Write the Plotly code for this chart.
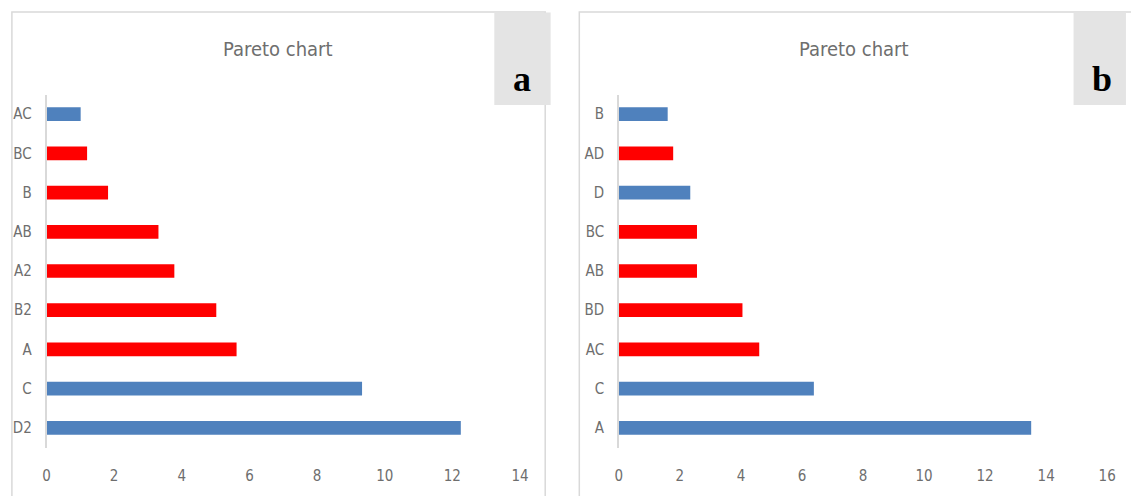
import plotly.graph_objects as go

W, H = 1131, 496

# Panel a: effects in Pareto order (largest first, drawn bottom to top)
a_terms = ["D2", "C", "A", "B2", "A2", "AB", "B", "BC", "AC"]
a_values = [12.25, 9.33, 5.62, 5.02, 3.78, 3.31, 1.82, 1.20, 1.01]
a_flag = [0, 0, 1, 1, 1, 1, 1, 1, 0]

# Panel b
b_terms = ["A", "C", "AC", "BD", "AB", "BC", "D", "AD", "B"]
b_values = [13.51, 6.39, 4.60, 4.05, 2.56, 2.56, 2.34, 1.78, 1.60]
b_flag = [0, 0, 1, 1, 1, 1, 0, 1, 0]

a_ticks = [0, 2, 4, 6, 8, 10, 12, 14]
b_ticks = [0, 2, 4, 6, 8, 10, 12, 14, 16]

BLUE = "#4f81bd"
RED = "#ff0000"
TEXT = "#6e6e6e"
FRAME = "#d9d9d9"
NARROW = "DejaVu Sans Condensed, Roboto, sans-serif"
TICK_FONT = dict(family=NARROW, size=15, color=TEXT)


def px(x):
    return x / W


def py(y):
    return 1 - y / H


fig = go.Figure()

fig.add_trace(go.Bar(
    x=a_values, y=a_terms, orientation="h",
    marker=dict(color=[RED if f else BLUE for f in a_flag], line=dict(width=0)),
    width=0.35, xaxis="x", yaxis="y", showlegend=False,
))
fig.add_trace(go.Bar(
    x=b_values, y=b_terms, orientation="h",
    marker=dict(color=[RED if f else BLUE for f in b_flag], line=dict(width=0)),
    width=0.35, xaxis="x2", yaxis="y2", showlegend=False,
))

plot_top, plot_bottom = 94.5, 447.5
ydom = [py(plot_bottom), py(plot_top)]

xcommon = dict(showgrid=False, zeroline=False, showline=False, ticks="",
               tickfont=TICK_FONT, ticklabelstandoff=17, fixedrange=True)
ycommon = dict(showgrid=False, zeroline=False, showline=True, linecolor=FRAME,
               linewidth=1.5, ticks="", tickfont=TICK_FONT, ticklabelstandoff=10,
               type="category", fixedrange=True)

fig.update_layout(
    width=W, height=H,
    margin=dict(l=0, r=0, t=0, b=0),
    paper_bgcolor="white", plot_bgcolor="white",
    xaxis=dict(domain=[px(43), px(522)], range=[0, a_ticks[-1]],
               tickvals=a_ticks, anchor="y", **xcommon),
    yaxis=dict(domain=ydom, anchor="x", **ycommon),
    xaxis2=dict(domain=[px(622), px(1116)], range=[0, b_ticks[-1]],
                tickvals=b_ticks, anchor="y2", **xcommon),
    yaxis2=dict(domain=ydom, anchor="x2", **ycommon),
    bargap=0.65,
)

shapes = []
# chart frames
for x0, x1 in [(8, 547.5), (582, 1145)]:
    shapes.append(dict(type="rect", xref="paper", yref="paper",
                       x0=px(x0), x1=px(x1), y0=py(510), y1=py(12),
                       line=dict(color=FRAME, width=1.5), fillcolor="rgba(0,0,0,0)",
                       layer="below"))
# panel letter boxes
for x0, x1 in [(496, 553), (1082, 1135)]:
    shapes.append(dict(type="rect", xref="paper", yref="paper",
                       x0=px(x0), x1=px(x1), y0=py(105), y1=py(12.5),
                       line=dict(width=0), fillcolor="#e4e4e4", layer="above"))
fig.update_layout(shapes=shapes)

annotations = []
for cx in [277, 860]:
    annotations.append(dict(text="Pareto chart", xref="paper", yref="paper",
                            x=px(cx), y=py(49), xanchor="center", yanchor="middle",
                            showarrow=False,
                            font=dict(family=NARROW, size=20, color=TEXT)))
for letter, cx in [("a", 524.5), ("b", 1111)]:
    annotations.append(dict(text="<b>%s</b>" % letter, xref="paper", yref="paper",
                            x=px(cx), y=py(79), xanchor="center", yanchor="middle",
                            showarrow=False,
                            font=dict(family="Liberation Serif, serif", size=36, color="black")))
fig.update_layout(annotations=annotations)

fig.write_html("out.html")
